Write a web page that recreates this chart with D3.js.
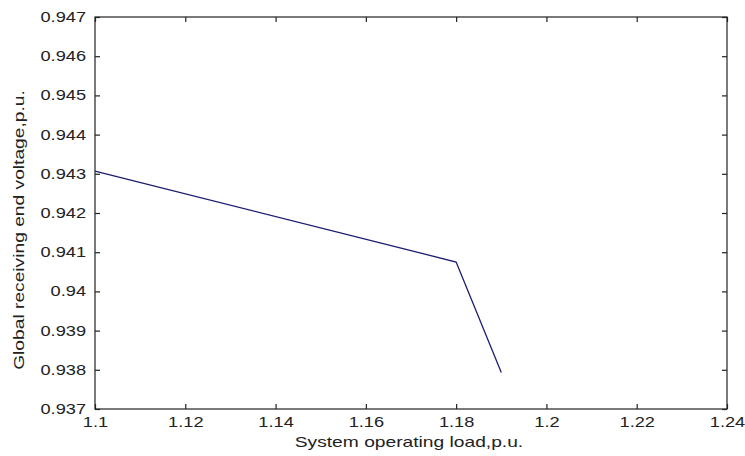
<!DOCTYPE html>
<html><head><meta charset="utf-8">
<script src="https://cdn.jsdelivr.net/npm/d3@7"></script>
<style>body{margin:0;background:#fff}text{font-family:"Liberation Sans",Arial,sans-serif;fill:#222}</style>
</head><body><svg id="c" width="745" height="456"></svg>
<script>
const loadX = [1.10, 1.18, 1.19];
const voltageY = [0.94307, 0.94075, 0.93793];
const xTicks = [1.1, 1.12, 1.14, 1.16, 1.18, 1.2, 1.22, 1.24];
const yTicks = [0.937, 0.938, 0.939, 0.94, 0.941, 0.942, 0.943, 0.944, 0.945, 0.946, 0.947];
const xTitle = "System operating load,p.u.";
const yTitle = "Global receiving end voltage,p.u.";

const svg = d3.select("#c");
const L = 95, R = 727, T = 17, B = 409;
const x = d3.scaleLinear().domain([1.1, 1.24]).range([L, R]);
const y = d3.scaleLinear().domain([0.937, 0.947]).range([B, T]);
const fmt = d => String(+d.toFixed(4));

function stretch(sel, k) {
  sel.each(function () {
    const w = this.getComputedTextLength();
    d3.select(this).attr("textLength", w * k).attr("lengthAdjust", "spacingAndGlyphs");
  });
}

svg.append("rect").attr("x", L).attr("y", T).attr("width", R - L).attr("height", B - T)
  .attr("fill", "none").attr("stroke", "#222").attr("stroke-width", 1.2);

const tk = 5;
const gB = svg.append("g").attr("transform", `translate(0,${B})`)
  .call(d3.axisBottom(x).tickValues(xTicks).tickFormat(fmt).tickSizeInner(-tk).tickSizeOuter(0).tickPadding(8));
const gT = svg.append("g").attr("transform", `translate(0,${T})`)
  .call(d3.axisTop(x).tickValues(xTicks).tickFormat("").tickSizeInner(-tk).tickSizeOuter(0));
const gL = svg.append("g").attr("transform", `translate(${L},0)`)
  .call(d3.axisLeft(y).tickValues(yTicks).tickFormat(fmt).tickSizeInner(-tk).tickSizeOuter(0).tickPadding(9));
const gR = svg.append("g").attr("transform", `translate(${R},0)`)
  .call(d3.axisRight(y).tickValues(yTicks).tickFormat("").tickSizeInner(-tk).tickSizeOuter(0));
[gB, gT, gL, gR].forEach(g => {
  g.select(".domain").remove();
  g.selectAll("line").attr("stroke", "#222").attr("stroke-width", 1.2);
  g.selectAll("text").style("font-size", "14px").attr("fill", "#222").style("font-family", '"Liberation Sans",Arial,sans-serif');
  stretch(g.selectAll("text"), 1.3);
});

svg.append("path").datum(loadX.map((v, i) => [v, voltageY[i]]))
  .attr("d", d3.line().x(d => x(d[0])).y(d => y(d[1])))
  .attr("fill", "none").attr("stroke", "#1c1c70").attr("stroke-width", 1.3);

const xt = svg.append("text").attr("x", 409).attr("y", 447).attr("text-anchor", "middle")
  .style("font-size", "15px").text(xTitle);
const yt = svg.append("text").attr("transform", "translate(24,230) rotate(-90)").attr("text-anchor", "middle")
  .style("font-size", "15px").text(yTitle);
stretch(xt, 1.28);
stretch(yt, 1.28);
</script></body></html>
